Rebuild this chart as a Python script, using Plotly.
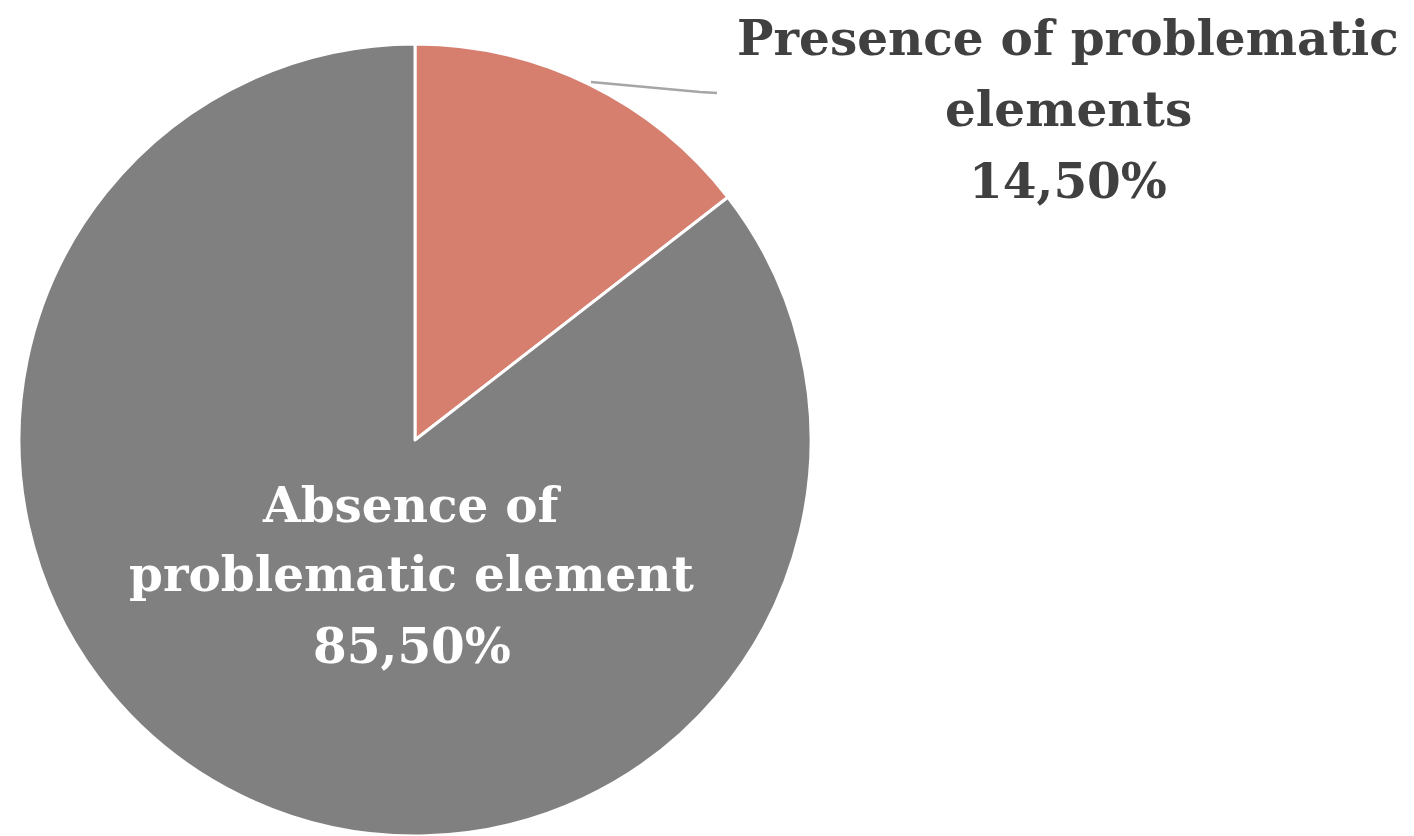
import plotly.graph_objects as go

labels = ["Presence of problematic elements", "Absence of problematic element"]
values = [14.5, 85.5]
colors = ["#D77F6F", "#808080"]
pct_text = ["14,50%", "85,50%"]
label_lines = [["Presence of problematic", "elements"], ["Absence of", "problematic element"]]

W, H = 1414, 836

fig = go.Figure(go.Pie(
    labels=labels, values=values, sort=False, direction="clockwise", rotation=0,
    marker=dict(colors=colors, line=dict(color="white", width=3)),
    textinfo="none", hoverinfo="label+percent", showlegend=False,
    domain=dict(x=[19/W, 811/W], y=[0, (H-44)/H]),
))

font_fam = "DejaVu Serif"
size = 48.5

def add_lines(lines, xc, ycs, color):
    for txt, yc in zip(lines, ycs):
        fig.add_annotation(x=xc/W, y=1-yc/H, xref="paper", yref="paper",
                           text="<b>" + txt + "</b>", showarrow=False,
                           font=dict(family=font_fam, size=size, color=color),
                           xanchor="center", yanchor="middle")

add_lines(label_lines[0] + [pct_text[0]], 1068, [38, 109, 180], "#404040")
add_lines(label_lines[1] + [pct_text[1]], 412, [504, 573, 645], "white")

fig.add_shape(type="path", xref="paper", yref="paper",
              path=f"M {591/W} {1-82/H} L {700/W} {1-92/H} L {717/W} {1-93/H}",
              line=dict(color="#A6A6A6", width=2.5))

fig.update_layout(width=W, height=H, margin=dict(l=0, r=0, t=0, b=0),
                  paper_bgcolor="white", plot_bgcolor="white")
fig.write_html("out.html")
